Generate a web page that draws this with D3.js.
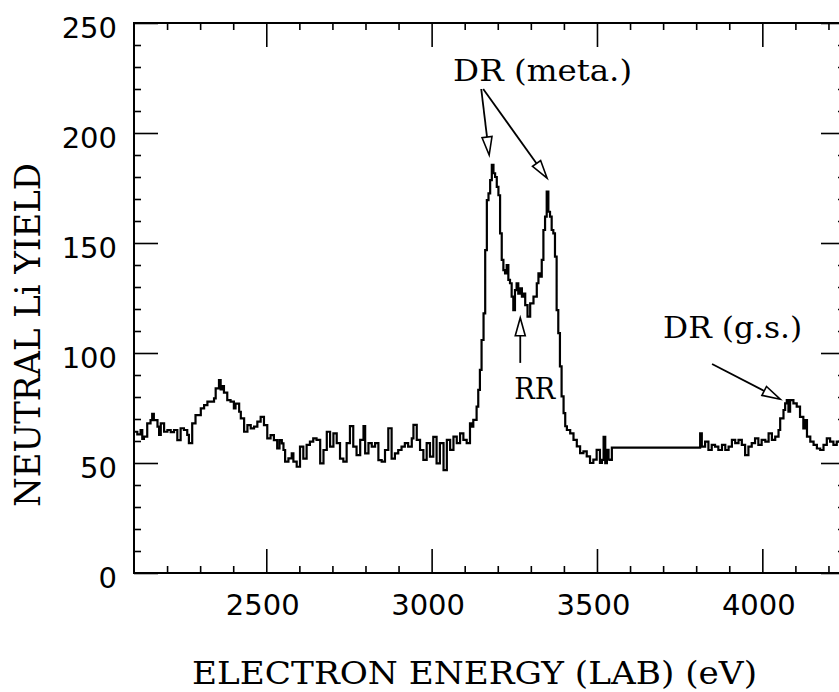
<!DOCTYPE html>
<html>
<head>
<meta charset="utf-8">
<script src="https://cdn.jsdelivr.net/npm/d3@7/dist/d3.min.js"></script>
<style>
  html, body { margin: 0; padding: 0; background: #fff; }
  svg { display: block; }
</style>
</head>
<body>
<svg id="chart" width="839" height="692"></svg>
<script>
// ---- data ----
const energy = [
  2100,2110,2120,2125,2130,2140,2150,2155,2160,2171,2176,2181,2191,2201,2211,2221,2231,2241,2251,2261,
  2266,2276,2286,2302,2312,2322,2332,2342,2347,2357,2362,2367,2372,2382,2392,2402,2407,2418,2423,2433,
  2443,2453,2463,2473,2483,2493,2503,2513,2523,2533,2540,2547,2552,2557,2567,2577,2582,2592,2602,2612,
  2622,2632,2642,2652,2663,2673,2683,2693,2703,2713,2723,2733,2743,2753,2763,2773,2784,2794,2799,2809,
  2819,2829,2839,2849,2859,2869,2879,2889,2899,2909,2919,2929,2940,2945,2955,2965,2975,2985,2995,3005,
  3015,3025,3036,3046,3056,3066,3076,3086,3096,3106,3116,3121,3126,3136,3141,3146,3151,3157,3162,3167,
  3172,3177,3182,3187,3192,3197,3202,3207,3212,3217,3222,3227,3232,3237,3242,3247,3252,3257,3262,3267,
  3273,3278,3283,3290,3298,3308,3318,3323,3328,3333,3338,3343,3348,3353,3358,3363,3368,3373,3378,3383,
  3388,3393,3399,3404,3409,3419,3429,3439,3449,3459,3469,3479,3489,3499,3509,3515,3520,3525,3530,3535,
  3540,3545,3812,3817,3827,3837,3847,3857,3867,3878,3888,3898,3908,3918,3928,3938,3948,3958,3968,3978,
  3988,3998,4009,4019,4029,4039,4049,4054,4064,4069,4074,4079,4084,4094,4104,4114,4124,4130,4135,4145,
  4155,4165,4175,4185,4195,4205,4215,4225,4250
];
const yieldValues = [
  64.2,63,65,61,62,68,69.5,72.3,69.5,66.5,62.8,68,64.2,65,64,65,60.4,65.8,65,62.8,
  59,68,71.8,74.8,76.3,77.9,77.9,79.4,83.9,87.7,83.4,85,82,78.6,77.9,74.8,77,73.3,70.3,64.2,
  67.2,65.7,66.5,68.8,71,67.2,61.2,62.7,60.4,56.6,60.4,58.9,55.9,50.6,52.1,54.4,50.6,48.3,57.4,52,
  58.2,59.7,61.2,60.5,49.8,55.9,64.2,57.4,63.5,59,52,50.6,59,66.8,57.4,53.6,60.5,66.8,54.4,59,
  57.4,59,51.3,50.6,55.9,65.8,52,54.4,55.9,57.4,59,57.4,61.2,67.3,60.5,55.9,51.4,59,52.9,61.9,
  49.8,59,46.8,60.5,56,62,59,63.5,60.5,59,68,66.5,69.6,75.6,83.2,92.3,105.9,118,146.8,169.5,
  172.6,178.6,185.5,181.7,180,175.5,171.7,154.4,142.3,137.7,136.2,140,133.2,131.7,125.6,119.5,128.6,131.7,127,129.4,
  125.6,127,121.8,116.5,122.6,125.6,131.7,136.2,134.7,142.3,155.9,162,173.4,164.2,162,155.9,154.4,143.8,119.5,109,
  93.9,80.3,72.7,66.7,65,63.5,60.5,57.6,54.5,55.3,53,50,51.5,56,50,51.4,61.9,49.9,56,51.5,
  51.4,57,63.5,57.4,59.7,55.9,58.2,57.4,55.9,58.2,55.9,57.4,60.5,59,60.5,58.2,53.6,57.4,59,61.2,
  58.2,60.5,59.7,63.5,60.5,62,65,70.3,74.1,77.1,78.6,73.3,78.6,77.1,75.6,71,65.7,69.5,62,59.7,
  58.2,56.6,55.9,58.2,61.2,59.7,58.2,59.7,58
];
const xDomain = [2100, 4250];
const yDomain = [0, 250];
const xMajorTicks = [2500, 3000, 3500, 4000];
const yMajorTicks = [0, 50, 100, 150, 200, 250];
const xTitle = "ELECTRON ENERGY (LAB) (eV)";
const yTitle = "NEUTRAL Li YIELD";
const annotations = [
  { text: "DR (meta.)", at: [3065, 223.6], width: 179,
    arrows: [ { from: [3150, 220], to: [3174, 190] }, { from: [3156, 220], to: [3349, 179.5] } ] },
  { text: "RR", at: [3250, 79], width: 41,
    arrows: [ { from: [3268, 95.5], to: [3268, 116] } ] },
  { text: "DR (g.s.)", at: [3700, 106.8], width: 139,
    arrows: [ { from: [3848, 95], to: [4054, 79] } ] }
];

(function () {
// ---- layout ----
const pL = 134, pT = 23, pR = 845, pB = 573;
const svg = d3.select("#chart");
const x = d3.scaleLinear().domain(xDomain).range([pL, pR]);
const y = d3.scaleLinear().domain(yDomain).range([pB, pT]);
const tickFont = "'DejaVu Sans', sans-serif";
const serif = "'DejaVu Serif', 'Liberation Serif', serif";

const xMinor = d3.range(2200, 4251, 100).filter(v => !xMajorTicks.includes(v));
const yMinor = d3.range(10, 250, 10).filter(v => v % 50 !== 0);

function styleAxis(g) {
  g.select(".domain").remove();
  g.selectAll("line").attr("stroke", "#000").attr("stroke-width", 1.6);
}

// bottom
svg.append("g").attr("transform", `translate(0,${pB})`)
  .call(d3.axisBottom(x).tickValues(xMajorTicks).tickSizeInner(-24).tickSizeOuter(0).tickPadding(21).tickFormat(d3.format("d")))
  .call(styleAxis)
  .call(g => g.selectAll("text").attr("font-family", tickFont).attr("font-size", 29).attr("fill", "#000").attr("dx", "-4"));
svg.append("g").attr("transform", `translate(0,${pB})`)
  .call(d3.axisBottom(x).tickValues(xMinor).tickSizeInner(-7).tickSizeOuter(0).tickFormat(""))
  .call(styleAxis);
// top
svg.append("g").attr("transform", `translate(0,${pT})`)
  .call(d3.axisTop(x).tickValues(xMajorTicks).tickSizeInner(-24).tickSizeOuter(0).tickFormat(""))
  .call(styleAxis);
svg.append("g").attr("transform", `translate(0,${pT})`)
  .call(d3.axisTop(x).tickValues(xMinor).tickSizeInner(-7).tickSizeOuter(0).tickFormat(""))
  .call(styleAxis);
// left
svg.append("g").attr("transform", `translate(${pL},0)`)
  .call(d3.axisLeft(y).tickValues(yMajorTicks).tickSizeInner(-24).tickSizeOuter(0).tickPadding(17).tickFormat(d3.format("d")))
  .call(styleAxis)
  .call(g => g.selectAll("text").attr("font-family", tickFont).attr("font-size", 29).attr("fill", "#000").attr("dy", "0.5em"));
svg.append("g").attr("transform", `translate(${pL},0)`)
  .call(d3.axisLeft(y).tickValues(yMinor).tickSizeInner(-7).tickSizeOuter(0).tickFormat(""))
  .call(styleAxis);
// right
svg.append("g").attr("transform", `translate(${pR},0)`)
  .call(d3.axisRight(y).tickValues(yMajorTicks).tickSizeInner(-24).tickSizeOuter(0).tickFormat(""))
  .call(styleAxis);
svg.append("g").attr("transform", `translate(${pR},0)`)
  .call(d3.axisRight(y).tickValues(yMinor).tickSizeInner(-7).tickSizeOuter(0).tickFormat(""))
  .call(styleAxis);

// frame
svg.append("rect").attr("x", pL).attr("y", pT).attr("width", pR - pL).attr("height", pB - pT)
  .attr("fill", "none").attr("stroke", "#000").attr("stroke-width", 2);

// data line
const pts = energy.map((e, i) => [e, yieldValues[i]]);
svg.append("path").datum(pts)
  .attr("fill", "none").attr("stroke", "#000").attr("stroke-width", 2.2)
  .attr("stroke-linejoin", "miter")
  .attr("d", d3.line().x(d => x(d[0])).y(d => y(d[1])).curve(d3.curveStepAfter));

// axis titles
svg.append("text").attr("x", 192).attr("y", 684)
  .attr("font-family", serif).attr("font-size", 32).attr("fill", "#000")
  .attr("textLength", 565).attr("lengthAdjust", "spacingAndGlyphs")
  .text(xTitle);
svg.append("text").attr("transform", "translate(40,507) rotate(-90)")
  .attr("font-family", serif).attr("font-size", 36).attr("fill", "#000")
  .attr("textLength", 344).attr("lengthAdjust", "spacingAndGlyphs")
  .text(yTitle);

// annotations
function arrow(a) {
  const x1 = x(a.from[0]), y1 = y(a.from[1]), x2 = x(a.to[0]), y2 = y(a.to[1]);
  const dx = x2 - x1, dy = y2 - y1, L = Math.hypot(dx, dy);
  const ux = dx / L, uy = dy / L, hl = 18, hw = 5;
  const bx = x2 - ux * hl, by = y2 - uy * hl;
  svg.append("line").attr("x1", x1).attr("y1", y1).attr("x2", bx).attr("y2", by)
    .attr("stroke", "#000").attr("stroke-width", 1.8);
  svg.append("path")
    .attr("d", `M${x2},${y2}L${bx - uy * hw},${by + ux * hw}L${bx + uy * hw},${by - ux * hw}Z`)
    .attr("fill", "#fff").attr("stroke", "#000").attr("stroke-width", 1.6).attr("stroke-linejoin", "miter");
}
annotations.forEach(a => {
  svg.append("text").attr("x", x(a.at[0])).attr("y", y(a.at[1]))
    .attr("font-family", serif).attr("font-size", 29).attr("fill", "#000")
    .attr("textLength", a.width).attr("lengthAdjust", "spacingAndGlyphs")
    .text(a.text);
  a.arrows.forEach(arrow);
});
})();
</script>
</body>
</html>
